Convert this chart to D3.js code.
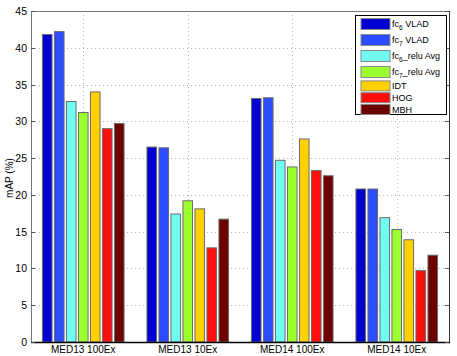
<!DOCTYPE html>
<html>
<head>
<meta charset="utf-8">
<script src="https://cdn.jsdelivr.net/npm/d3@7"></script>
<style>
  body { margin: 0; background: #fff; }
  svg text { font-family: "Liberation Sans", Arial, sans-serif; fill: #000; }
</style>
</head>
<body>
<svg id="chart" width="457" height="356"></svg>
<script>
// data
var categories = ["MED13 100Ex", "MED13 10Ex", "MED14 100Ex", "MED14 10Ex"];
var series = ["fc6 VLAD", "fc7 VLAD", "fc6_relu Avg", "fc7_relu Avg", "IDT", "HOG", "MBH"];
// legend pieces: [base, subscript, rest]
var legendParts = [["fc", "6", " VLAD"], ["fc", "7", " VLAD"], ["fc", "6", "_relu Avg"], ["fc", "7", "_relu Avg"],
                   ["IDT", "", ""], ["HOG", "", ""], ["MBH", "", ""]];
var colors = ["#0000d2", "#2b4cff", "#70fff0", "#9cff30", "#ffd100", "#ff0e0e", "#6e0000"];
var values = [
  [41.8, 42.2, 32.7, 31.2, 34.0, 29.0, 29.7],
  [26.5, 26.4, 17.4, 19.2, 18.1, 12.8, 16.7],
  [33.1, 33.2, 24.7, 23.8, 27.6, 23.3, 22.6],
  [20.8, 20.8, 16.9, 15.3, 13.9, 9.7, 11.8]
];
var yTicks = [0, 5, 10, 15, 20, 25, 30, 35, 40, 45];

var svg = d3.select("#chart");
var plotL = 31, plotR = 449, plotT = 11, plotB = 342;

var x = d3.scaleBand().domain(categories).range([plotL, plotR]).padding(0);
var y = d3.scaleLinear().domain([0, 45]).range([plotB, plotT]);

// grid
var grid = svg.append("g");
grid.selectAll(".hg").data(yTicks.slice(1, -1)).enter().append("line")
  .attr("x1", plotL).attr("x2", plotR)
  .attr("y1", function(d) { return Math.round(y(d)) + 0.5; }).attr("y2", function(d) { return Math.round(y(d)) + 0.5; })
  .attr("stroke", "#b8b8b8").attr("stroke-dasharray", "1,3");
grid.selectAll(".vg").data(categories).enter().append("line")
  .attr("x1", function(d) { return Math.round(x(d) + x.bandwidth() / 2) + 0.5; })
  .attr("x2", function(d) { return Math.round(x(d) + x.bandwidth() / 2) + 0.5; })
  .attr("y1", plotT).attr("y2", plotB)
  .attr("stroke", "#b8b8b8").attr("stroke-dasharray", "1,3");

// bars
var inner = d3.scaleBand().domain(d3.range(series.length)).range([-42, 42]).paddingInner(0.2).paddingOuter(0.1);

var groups = svg.selectAll(".grp").data(values).enter().append("g")
  .attr("transform", function(d, i) { return "translate(" + (x(categories[i]) + x.bandwidth() / 2) + ",0)"; });

groups.selectAll("rect").data(function(d) { return d; }).enter().append("rect")
  .attr("x", function(d, j) { return inner(j); })
  .attr("width", inner.bandwidth())
  .attr("y", function(d) { return y(d); })
  .attr("height", function(d) { return y(0) - y(d); })
  .attr("fill", function(d, j) { return colors[j]; })
  .attr("stroke", "#6a6a6a").attr("stroke-width", 1);

// frame
svg.append("rect").attr("x", plotL + 0.5).attr("y", plotT + 0.5)
  .attr("width", plotR - plotL).attr("height", plotB - plotT)
  .attr("fill", "none").attr("stroke", "#777");
svg.append("line").attr("x1", plotL).attr("x2", plotR + 1)
  .attr("y1", plotB + 0.5).attr("y2", plotB + 0.5).attr("stroke", "#000").attr("stroke-width", 1.5);
svg.append("line").attr("x1", plotR + 0.5).attr("x2", plotR + 0.5)
  .attr("y1", plotT).attr("y2", plotB).attr("stroke", "#333");

// y ticks (inward on both sides)
var ticks = svg.append("g");
ticks.selectAll(".lt").data(yTicks).enter().append("line")
  .attr("x1", plotL).attr("x2", plotL + 4)
  .attr("y1", function(d) { return Math.round(y(d)) + 0.5; }).attr("y2", function(d) { return Math.round(y(d)) + 0.5; })
  .attr("stroke", "#555");
ticks.selectAll(".rt").data(yTicks).enter().append("line")
  .attr("x1", plotR - 4).attr("x2", plotR)
  .attr("y1", function(d) { return Math.round(y(d)) + 0.5; }).attr("y2", function(d) { return Math.round(y(d)) + 0.5; })
  .attr("stroke", "#555");
ticks.selectAll(".lbl").data(yTicks).enter().append("text")
  .attr("x", plotL - 4).attr("y", function(d) { return y(d) + 4; })
  .attr("text-anchor", "end").attr("font-size", 10.5)
  .text(function(d) { return d; });

// x labels
svg.selectAll(".xl").data(categories).enter().append("text")
  .attr("x", function(d) { return x(d) + x.bandwidth() / 2; })
  .attr("y", 353).attr("text-anchor", "middle").attr("font-size", 10)
  .text(function(d) { return d; });

// y label
svg.append("text").attr("transform", "translate(13,178) rotate(-90)")
  .attr("text-anchor", "middle").attr("font-size", 10).text("mAP (%)");

// legend
var lg = svg.append("g");
lg.append("rect").attr("x", 355.5).attr("y", 15.5).attr("width", 91).attr("height", 99)
  .attr("fill", "#fff").attr("stroke", "#000");
var rowY = [], cy = 16;
legendParts.forEach(function(p) {
  var h = p[1] ? 16 : 11.8;
  rowY.push(cy + h / 2);
  cy += h;
});
var rows = lg.selectAll(".row").data(legendParts).enter().append("g")
  .attr("transform", function(d, i) { return "translate(0," + rowY[i] + ")"; });
rows.append("rect").attr("x", 361).attr("y", function(d) { return d[1] ? -5.5 : -5; })
  .attr("width", 29).attr("height", function(d) { return d[1] ? 11 : 10; })
  .attr("fill", function(d, i) { return colors[i]; })
  .attr("stroke", "#888");
var t = rows.append("text").attr("x", 392).attr("y", 3).attr("font-size", 9);
t.append("tspan").text(function(d) { return d[0]; });
t.append("tspan").attr("font-size", 6.5).attr("dy", 2.5).text(function(d) { return d[1]; });
t.append("tspan").attr("dy", function(d) { return d[1] ? -2.5 : 0; }).text(function(d) { return d[2]; });
</script>
</body>
</html>
